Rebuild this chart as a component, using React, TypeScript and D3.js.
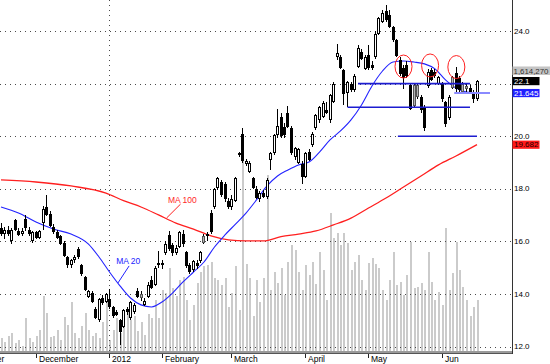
import React from "react";
import * as d3 from "d3";

// ---------- DATA ----------
const opens = [16.5,16.3,16.45,16.0,16.8,16.4,16.3,16.85,16.45,16.0,16.35,16.15,16.7,17.3,17.05,16.55,16.35,16.2,15.95,15.4,15.1,15.3,15.7,15.1,14.65,13.9,14.05,13.45,13.0,13.85,13.7,13.8,13.5,13.3,13.0,12.75,13.45,13.1,13.3,14.1,13.85,13.6,13.9,14.55,14.35,15.1,15.1,15.55,16.25,15.85,15.55,15.8,16.3,15.6,15.1,14.9,15.2,15.25,15.95,16.2,17.1,17.3,18.05,18.25,18.2,17.55,17.3,17.55,19.3,20.1,18.95,18.65,18.4,18.0,17.6,17.85,17.7,19.1,19.35,20.05,20.75,20.35,20.9,20.3,19.2,19.0,18.95,18.45,19.4,19.65,20.3,20.6,20.75,21.0,20.6,21.3,23.0,23.0,22.5,21.65,22.0,21.75,22.65,23.2,22.55,23.1,22.7,23.0,23.9,24.35,24.75,24.6,24.15,23.65,22.9,22.6,22.7,21.95,21.15,21.5,21.5,21.1,21.9,22.5,22.45,22.0,22.0,21.3,20.7,21.85,22.4,22.2,21.7,21.8,21.85,21.7,21.4];
const highs = [16.7,16.55,16.6,16.5,16.85,16.5,16.5,17.0,16.55,16.4,16.4,16.45,17.35,17.75,17.15,16.65,16.45,16.25,16.0,15.45,15.35,15.5,15.8,15.15,14.7,14.15,14.1,13.5,13.85,13.95,14.05,14.2,13.55,13.4,13.05,13.45,13.5,13.75,13.65,14.25,14.1,13.85,14.45,14.7,15.05,15.65,15.3,16.0,16.4,15.95,15.85,16.4,16.45,15.65,15.2,15.3,15.3,15.65,16.3,16.35,17.2,18.05,18.45,18.35,18.25,17.65,17.75,18.45,19.4,20.3,19.15,19.05,18.45,18.1,17.9,17.95,18.4,19.4,20.1,21.05,20.9,20.5,21.15,20.4,19.6,19.55,19.05,19.4,19.5,20.15,20.85,21.15,21.35,21.3,21.6,22.05,23.5,23.1,22.55,22.1,22.05,22.35,23.45,23.3,23.1,23.45,22.85,24.0,24.55,24.8,25.0,24.8,24.2,23.7,23.0,22.7,22.85,22.0,22.0,22.0,21.55,21.2,22.55,22.6,22.55,22.3,22.05,21.35,21.55,22.3,22.65,22.3,22.05,22.0,21.95,21.75,22.15];
const lows = [16.2,16.1,16.2,15.9,16.4,16.2,16.2,16.4,16.2,15.95,16.1,16.1,16.45,16.95,16.55,16.3,16.1,15.85,15.4,15.0,15.0,15.2,15.35,14.7,14.1,13.85,13.65,13.05,12.95,13.6,13.65,13.45,13.1,13.15,12.05,12.7,13.2,13.0,13.25,13.85,13.75,13.55,13.85,14.2,14.3,15.0,14.95,15.5,15.65,15.45,15.5,15.75,15.8,15.0,14.75,14.85,14.95,15.2,15.9,16.0,16.3,17.25,17.95,17.7,17.5,17.25,17.2,17.5,19.2,19.0,18.85,18.6,18.0,17.6,17.5,17.65,17.6,18.7,19.3,19.95,19.95,19.95,20.3,19.3,19.1,18.95,18.2,18.4,19.05,19.6,20.25,20.5,20.7,20.85,20.5,21.25,22.9,22.55,21.2,21.1,21.7,21.7,22.6,22.9,22.5,22.5,22.5,22.95,23.85,24.3,24.35,24.1,23.6,23.0,22.3,21.8,22.2,21.0,21.1,21.4,20.9,20.2,21.85,22.1,22.2,21.95,21.3,20.35,20.6,21.8,21.7,21.7,21.65,21.65,21.6,21.25,21.35];
const closes = [16.3,16.45,16.3,16.45,16.45,16.25,16.4,16.5,16.3,16.35,16.15,16.4,17.25,17.0,16.6,16.35,16.15,15.9,15.45,15.1,15.3,15.4,15.4,14.75,14.15,14.1,13.7,13.1,13.8,13.65,14.0,13.5,13.15,13.2,12.55,13.4,13.3,13.7,13.6,13.9,14.0,13.75,14.35,14.25,15.0,15.2,15.2,15.9,15.7,15.55,15.75,16.35,15.9,15.05,14.85,15.25,15.05,15.6,16.2,16.3,16.35,18.0,18.4,17.75,17.6,17.3,17.6,18.4,19.35,19.05,19.05,19.0,18.05,17.65,17.85,17.7,18.35,19.35,20.05,20.4,20.0,20.05,20.35,19.35,19.55,19.5,18.45,19.35,19.1,20.1,20.8,21.1,21.25,20.9,21.55,22.0,23.15,22.6,21.6,22.05,21.75,22.3,23.35,22.95,23.0,22.6,22.6,23.9,24.5,24.7,24.4,24.15,23.65,23.05,22.35,22.2,22.3,21.05,21.95,21.95,21.0,20.3,22.45,22.15,22.3,22.25,21.4,20.45,21.5,22.25,21.8,21.75,22.0,21.9,21.65,21.4,22.1];
// volume, thousands of shares
const volumes = [438,313,500,594,281,375,188,1063,438,313,500,688,1750,1219,469,500,688,375,1094,844,1563,594,438,813,1219,688,500,594,438,938,1750,375,688,1063,594,875,1313,1000,1125,656,938,531,1188,1063,1625,1063,1938,1844,2625,2000,1750,2250,2344,1625,1000,1469,2156,2500,2688,2719,2813,2313,2250,2094,2313,1406,1844,2688,1313,6000,2750,2313,1125,2250,1563,2313,5531,1938,2500,2156,2625,1781,2813,3344,3188,2500,1938,2719,2406,2813,2125,3125,2563,1625,4344,3563,3719,3344,3719,3406,2563,2813,3031,2250,1938,2781,2938,2750,2625,1938,1625,2250,3125,2094,2188,1781,2406,3438,2000,2031,2156,1938,3125,2188,1625,1875,1469,3875,1938,2469,3438,2563,2031,1625,1125,1406,1614.27];
const grayCandles = [40,58,118,119,129,132,133];

const ma20Idx = [0,5,10,15,20,25,28,31,34,37,40,43,46,49,52,55,58,61,64,67,70,73,76,79,82,85,88,91,94,97,100,103,106,109,112,115,118,121,124,127,130,133,136];
const ma20Val = [17.31,17.08,16.74,16.47,16.28,15.9,15.41,14.84,14.31,13.85,13.59,13.51,13.7,14.04,14.46,14.84,15.22,15.79,16.25,16.66,17.08,17.58,18.11,18.49,18.72,18.91,19.02,19.4,19.86,20.2,20.62,21.19,21.91,22.48,22.82,22.86,22.82,22.75,22.56,22.14,21.83,21.68,21.645];
const ma100Idx = [0,10,20,30,35,40,45,50,55,60,65,70,75,80,85,90,95,100,105,110,115,120,125,130,136];
const ma100Val = [18.34,18.26,18.11,17.84,17.55,17.31,17.01,16.7,16.47,16.21,16.06,16.02,16.02,16.18,16.28,16.4,16.63,16.89,17.27,17.65,18.07,18.49,18.91,19.25,19.682];

const priceTicks = [12,14,16,18,20,22,24];
const monthLabels = ["November","December","2012","February","March","April","May","Jun"];
const monthStartIdx = [-11,10,31,46,66,87,105,126];
const yearStartIdx = 31;

// analyst annotations (in index / price units)
const hLinePrice = [22.0, 21.1, 20.0];
const hLineFrom = [102, 99, 113.4];
const hLineTo = [134, 134, 136];
const circleIdx = [115, 122.6, 130.1];
const circlePrice = [22.65, 22.69, 22.63];

export default function App() {
  const W = 550, H = 364;
  const plotR = 512, plotB = 352;
  const n = closes.length;
  const x = d3.scaleLinear().domain([0, n - 1]).range([1, 477]);
  const y = d3.scaleLinear().domain([12, 24]).range([346.7, 31]);
  const yv = d3.scaleLinear().domain([0, 11000]).range([plotB, 0]);
  const font = "'Liberation Sans', Arial, sans-serif";

  const line = d3
    .line<[number, number]>()
    .x((d) => x(d[0]))
    .y((d) => y(d[1]))
    .curve(d3.curveMonotoneX);
  const ma20Path = line(ma20Idx.map((d, i) => [d, ma20Val[i]]) as [number, number][]) || "";
  const ma100Path = line(ma100Idx.map((d, i) => [d, ma100Val[i]]) as [number, number][]) || "";

  const lastClose = closes[n - 1];
  const lastMa20 = ma20Val[ma20Val.length - 1];
  const lastMa100 = ma100Val[ma100Val.length - 1];
  const lastVol = Math.round(volumes[n - 1] * 1000);

  const boxes = [
    { v: lastClose, text: String(lastClose), bg: "#000000", fg: "#ffffff", w: 27 },
    { v: lastMa20, text: String(lastMa20), bg: "#1f1fff", fg: "#ffffff", w: 27 },
    { v: lastMa100, text: String(lastMa100), bg: "#ff1a1a", fg: "#200000", w: 27 },
  ];

  return (
    <svg
      width={W}
      height={H}
      style={{ position: "absolute", left: 0, top: 0, background: "#fff" }}
      fontFamily={font}
    >
      <rect x={0} y={0} width={W} height={H} fill="#ffffff" />
      {/* volume bars */}
      <g shapeRendering="crispEdges">
        {volumes.map((v, i) => (
          <rect key={i} x={Math.floor(x(i))} y={yv(v)} width={2} height={plotB - yv(v)} fill="#cbcbcb" />
        ))}
      </g>
      {/* grid */}
      <g shapeRendering="crispEdges">
        {priceTicks.map((t) => (
          <line key={t} x1={0} x2={plotR} y1={Math.round(y(t)) + 0.5} y2={Math.round(y(t)) + 0.5}
            stroke="#4a4a4a" strokeDasharray="1 4" />
        ))}
        <line x1={Math.floor(x(yearStartIdx)) + 0.5} x2={Math.floor(x(yearStartIdx)) + 0.5} y1={0} y2={plotB}
          stroke="#4a4a4a" strokeDasharray="1 4" />
      </g>
      {/* moving averages */}
      <path d={ma100Path} fill="none" stroke="#ff1f1f" strokeWidth={1.3} />
      <path d={ma20Path} fill="none" stroke="#2222ff" strokeWidth={1.1} />
      {/* candles */}
      <g shapeRendering="crispEdges">
        {closes.map((c, i) => {
          const px = Math.floor(x(i));
          const o = opens[i];
          const top = Math.round(y(Math.max(o, c)));
          const bot = Math.max(Math.round(y(Math.min(o, c))), top + 2);
          const gray = grayCandles.includes(i);
          const up = c >= o;
          return (
            <g key={i}>
              <rect x={px} y={Math.round(y(highs[i]))} width={1} height={Math.round(y(lows[i])) - Math.round(y(highs[i]))} fill="#000" />
              <rect x={px - 1} y={top} width={3} height={bot - top} fill={gray ? "#555" : "#000"} />
              {(up || gray) && bot - top > 2 && (
                <rect x={px} y={top + 1} width={1} height={bot - top - 2} fill={gray ? "#b4b4b4" : "#ffffff"} />
              )}
            </g>
          );
        })}
      </g>
      {/* analyst lines */}
      {hLinePrice.map((p, i) => (
        <line key={i} x1={x(hLineFrom[i])} x2={x(hLineTo[i])} y1={y(p)} y2={y(p)} stroke="#1c1cd0" strokeWidth={1.6} />
      ))}
      <line x1={x(129.5)} x2={490} y1={y(lastMa20)} y2={y(lastMa20)} stroke="#8a8aff" strokeWidth={2} />
      {circleIdx.map((ci, i) => (
        <ellipse key={i} cx={x(ci)} cy={y(circlePrice[i])} rx={8.5} ry={11.5} fill="none" stroke="#ff2020" strokeWidth={1} />
      ))}
      {/* MA labels */}
      <text x={x(47.7)} y={y(17.46)} fontSize={8.5} fill="#ff1f1f">MA 100</text>
      <line x1={x(51.3)} y1={y(17.42)} x2={x(47.3)} y2={y(16.89)} stroke="#ff1f1f" strokeWidth={1} />
      <text x={x(32.9)} y={y(15.14)} fontSize={8.5} fill="#2222ff">MA 20</text>
      <line x1={x(36.6)} y1={y(15.07)} x2={x(33.4)} y2={y(14.42)} stroke="#2222ff" strokeWidth={1} />
      {/* axes */}
      <g shapeRendering="crispEdges">
        <rect x={0} y={plotB - 1} width={plotR} height={2} fill="#9a9a9a" />
        <line x1={0} x2={plotR} y1={plotB + 1.5} y2={plotB + 1.5} stroke="#555" />
        <line x1={plotR + 0.5} x2={plotR + 0.5} y1={0} y2={plotB + 2} stroke="#333" strokeWidth={1} />
        {monthStartIdx.map((m, i) => (
          <line key={i} x1={Math.floor(x(m)) + 0.5} x2={Math.floor(x(m)) + 0.5} y1={plotB + 2} y2={plotB + 6} stroke="#222" />
        ))}
      </g>
      {monthLabels.map((l, i) => (
        <text key={l} x={Math.floor(x(monthStartIdx[i])) + 3} y={362} fontSize={8.5} fill="#000">{l}</text>
      ))}
      {priceTicks
        .filter((t) => !boxes.some((b) => Math.abs(y(b.v) - y(t)) < 7))
        .map((t) => (
          <text key={t} x={514} y={y(t) + 2.6} fontSize={8} fill="#000">{t.toFixed(1)}</text>
        ))}
      {/* last value boxes */}
      <rect x={512.5} y={y(lastClose) - 14.5} width={37.5} height={8.5} fill="#c4c4c4" />
      <text x={513.5} y={y(lastClose) - 7.4} fontSize={8} fill="#333" textLength={35} lengthAdjust="spacingAndGlyphs">
        {d3.format(",")(lastVol)}
      </text>
      {boxes.map((b, i) => (
        <g key={i}>
          <rect x={512.5} y={y(b.v) - 4} width={b.w} height={8.2} fill={b.bg} />
          <text x={514} y={y(b.v) + 2.8} fontSize={8} fill={b.fg}>{b.text}</text>
        </g>
      ))}
    </svg>
  );
}
